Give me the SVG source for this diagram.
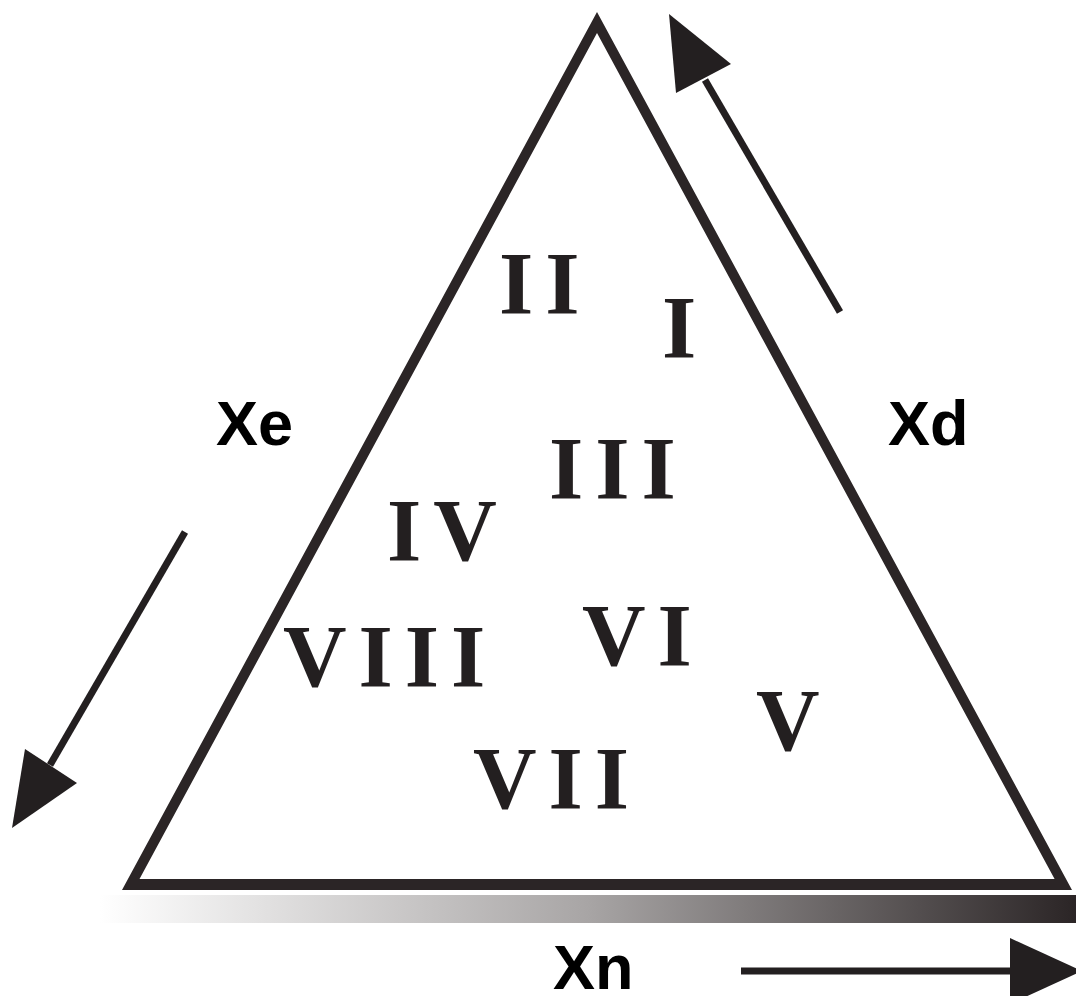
<svg xmlns="http://www.w3.org/2000/svg" width="1076" height="996" viewBox="0 0 1076 996">
<defs>
<linearGradient id="g" x1="0" y1="0" x2="1" y2="0">
<stop offset="0" stop-color="#ffffff"/>
<stop offset="0.5" stop-color="#a8a5a5"/>
<stop offset="1" stop-color="#2b2526"/>
</linearGradient>
<style>
.num{font-family:"Liberation Serif","Times New Roman",serif;font-weight:bold;font-size:88px;fill:#231f20;letter-spacing:12px}
.lab{font-family:"Liberation Sans",Arial,sans-serif;font-weight:bold;font-size:63px;fill:#000}
.arr{stroke:#231f20;stroke-width:7;fill:none}
.head{fill:#231f20}
</style>
</defs>
<rect width="1076" height="996" fill="#fff"/>
<g id="gradient-bar">
<rect x="100" y="895" width="976" height="28" fill="url(#g)"/>
</g>
<g id="triangle">
<path d="M597,12 L122,890 L1072,890 Z M597,33 L1054.6,879 L139.5,879 Z" fill="#2b2526" fill-rule="evenodd"/>
</g>
<g id="connectors">
<line class="arr" x1="840" y1="312" x2="705" y2="80"/>
<polygon class="head" points="669,14 731,64 676,93"/>
<line class="arr" x1="185" y1="532" x2="50" y2="765"/>
<polygon class="head" points="25,749 77,783 12,828"/>
<line class="arr" x1="741" y1="971" x2="1015" y2="971"/>
<polygon class="head" points="1010,938 1082,971 1010,1004"/>
</g>
<g id="labels">
<text class="lab" x="216" y="445">Xe</text>
<text class="lab" x="888" y="445">Xd</text>
<text class="lab" x="553" y="989">Xn</text>
</g>
<g id="regions">
<text id="r2" class="num" x="499" y="313">II</text>
<text id="r1" class="num" x="662" y="357">I</text>
<text id="r3" class="num" x="549" y="498">III</text>
<text id="r4" class="num" x="387" y="560">IV</text>
<text id="r8" class="num" x="283" y="686">VIII</text>
<text id="r6" class="num" x="582" y="665">VI</text>
<text id="r5" class="num" x="756" y="750">V</text>
<text id="r7" class="num" x="473" y="808">VII</text>
</g>
</svg>
